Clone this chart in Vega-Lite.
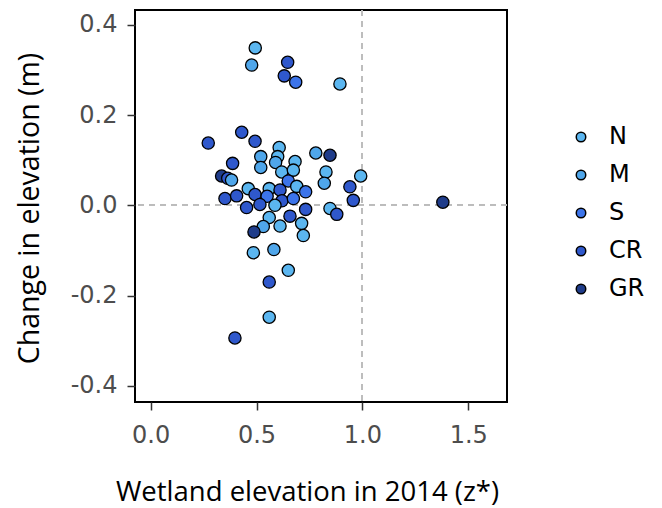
{
  "$schema": "https://vega.github.io/schema/vega-lite/v6.json",
  "width": 372,
  "height": 392,
  "autosize": "none",
  "padding": {"left": 135, "top": 10, "right": 155, "bottom": 106},
  "background": "white",
  "config": {
    "view": {"stroke": "black", "strokeWidth": 2},
    "axis": {
      "grid": false,
      "domain": false,
      "tickColor": "#333333",
      "tickWidth": 1.5,
      "tickSize": 8,
      "labelFont": "DejaVu Sans",
      "labelFontSize": 24,
      "labelColor": "#4D4D4D",
      "titleFont": "Open Sans",
      "titleFontWeight": "normal",
      "titleColor": "black"
    }
  },
  "data": {
    "values": [
      {"z": 0.494, "dz": 0.349, "site": "N"},
      {"z": 0.477, "dz": 0.311, "site": "M"},
      {"z": 0.647, "dz": 0.317, "site": "CR"},
      {"z": 0.631, "dz": 0.287, "site": "CR"},
      {"z": 0.685, "dz": 0.273, "site": "S"},
      {"z": 0.894, "dz": 0.269, "site": "N"},
      {"z": 1.38, "dz": 0.007, "site": "GR"},
      {"z": 0.272, "dz": 0.138, "site": "CR"},
      {"z": 0.43, "dz": 0.162, "site": "CR"},
      {"z": 0.493, "dz": 0.142, "site": "CR"},
      {"z": 0.607, "dz": 0.128, "site": "N"},
      {"z": 0.52, "dz": 0.108, "site": "M"},
      {"z": 0.6, "dz": 0.108, "site": "N"},
      {"z": 0.78, "dz": 0.116, "site": "M"},
      {"z": 0.847, "dz": 0.111, "site": "GR"},
      {"z": 0.682, "dz": 0.097, "site": "N"},
      {"z": 0.387, "dz": 0.093, "site": "CR"},
      {"z": 0.52, "dz": 0.084, "site": "M"},
      {"z": 0.59, "dz": 0.095, "site": "M"},
      {"z": 0.619, "dz": 0.074, "site": "N"},
      {"z": 0.674, "dz": 0.078, "site": "N"},
      {"z": 0.828, "dz": 0.074, "site": "N"},
      {"z": 0.82, "dz": 0.049, "site": "M"},
      {"z": 0.992, "dz": 0.065, "site": "N"},
      {"z": 0.941, "dz": 0.041, "site": "CR"},
      {"z": 0.957, "dz": 0.011, "site": "CR"},
      {"z": 0.335, "dz": 0.065, "site": "GR"},
      {"z": 0.364, "dz": 0.06, "site": "CR"},
      {"z": 0.382, "dz": 0.056, "site": "M"},
      {"z": 0.65, "dz": 0.054, "site": "S"},
      {"z": 0.461, "dz": 0.037, "site": "N"},
      {"z": 0.56, "dz": 0.037, "site": "N"},
      {"z": 0.611, "dz": 0.034, "site": "CR"},
      {"z": 0.69, "dz": 0.042, "site": "N"},
      {"z": 0.732, "dz": 0.03, "site": "S"},
      {"z": 0.351, "dz": 0.015, "site": "CR"},
      {"z": 0.406, "dz": 0.021, "site": "CR"},
      {"z": 0.493, "dz": 0.024, "site": "CR"},
      {"z": 0.55, "dz": 0.02, "site": "S"},
      {"z": 0.62, "dz": 0.01, "site": "CR"},
      {"z": 0.453, "dz": -0.005, "site": "CR"},
      {"z": 0.516, "dz": 0.002, "site": "CR"},
      {"z": 0.587, "dz": 0.0, "site": "N"},
      {"z": 0.674, "dz": 0.015, "site": "S"},
      {"z": 0.732, "dz": -0.009, "site": "CR"},
      {"z": 0.847, "dz": -0.007, "site": "N"},
      {"z": 0.879, "dz": -0.02, "site": "CR"},
      {"z": 0.56, "dz": -0.027, "site": "N"},
      {"z": 0.658, "dz": -0.024, "site": "CR"},
      {"z": 0.611, "dz": -0.046, "site": "N"},
      {"z": 0.532, "dz": -0.047, "site": "M"},
      {"z": 0.713, "dz": -0.04, "site": "N"},
      {"z": 0.721, "dz": -0.067, "site": "N"},
      {"z": 0.488, "dz": -0.059, "site": "GR"},
      {"z": 0.485, "dz": -0.105, "site": "N"},
      {"z": 0.582, "dz": -0.098, "site": "M"},
      {"z": 0.65, "dz": -0.144, "site": "N"},
      {"z": 0.56, "dz": -0.17, "site": "CR"},
      {"z": 0.56, "dz": -0.248, "site": "N"},
      {"z": 0.398, "dz": -0.294, "site": "CR"}
    ]
  },
  "layer": [
    {
      "mark": {"type": "rule", "color": "#BDBDBD", "strokeWidth": 1.2, "strokeDash": [6, 5]},
      "encoding": {"y": {"datum": 0, "type": "quantitative"}}
    },
    {
      "mark": {"type": "rule", "color": "#BDBDBD", "strokeWidth": 1.2, "strokeDash": [6, 5]},
      "encoding": {"x": {"datum": 1, "type": "quantitative"}}
    },
    {
      "mark": {"type": "point", "filled": true, "opacity": 1, "size": 150, "stroke": "black", "strokeWidth": 1.3},
      "encoding": {
        "x": {
          "field": "z",
          "type": "quantitative",
          "scale": {"domain": [-0.074, 1.683], "nice": false, "zero": false},
          "axis": {
            "values": [0, 0.5, 1, 1.5],
            "labelExpr": "replace(format(datum.value, '.1f'), '\u2212', '-')",
            "title": "Wetland elevation in 2014 (z*)",
            "labelPadding": 13,
            "titleX": 172,
            "titleY": 90,
            "titleBaseline": "middle",
            "titleFontSize": 27.5
          }
        },
        "y": {
          "field": "dz",
          "type": "quantitative",
          "scale": {"domain": [-0.436, 0.433], "nice": false, "zero": false},
          "axis": {
            "values": [-0.4, -0.2, 0, 0.2, 0.4],
            "labelExpr": "replace(format(datum.value, '.1f'), '\u2212', '-')",
            "title": "Change in elevation (m)",
            "labelPadding": 10,
            "titleX": -106,
            "titleY": 198,
            "titleAngle": -90,
            "titleBaseline": "middle",
            "titleAlign": "center",
            "titleFontSize": 28.5
          }
        },
        "color": {
          "field": "site",
          "type": "nominal",
          "scale": {
            "domain": ["N", "M", "S", "CR", "GR"],
            "range": ["#5BB6F0", "#4FA6EA", "#3C74EA", "#2F58CC", "#1F3C8A"]
          },
          "legend": {
            "title": null,
            "orient": "none",
            "legendX": 434,
            "legendY": 115,
            "symbolType": "circle",
            "symbolSize": 90,
            "symbolStrokeColor": "black",
            "symbolStrokeWidth": 1.5,
            "symbolOpacity": 1,
            "labelFont": "DejaVu Sans",
            "labelFontSize": 24,
            "labelColor": "black",
            "labelOffset": 16,
            "rowPadding": 14
          }
        }
      }
    }
  ]
}
